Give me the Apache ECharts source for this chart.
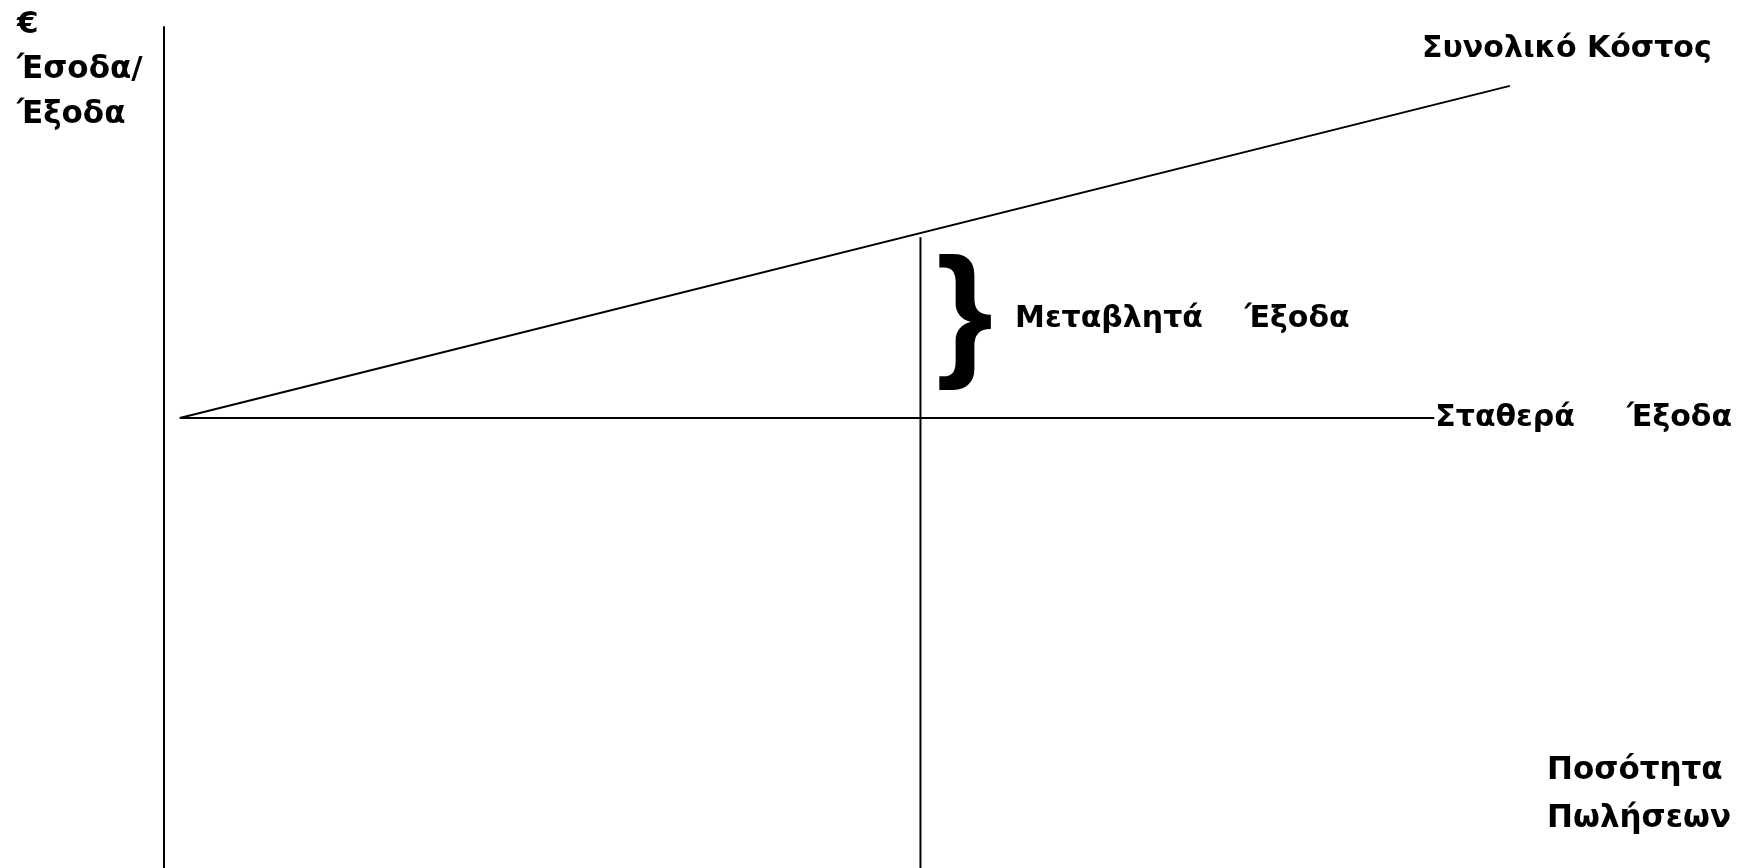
<!DOCTYPE html>
<html>
<head>
<meta charset="utf-8">
<script src="https://cdn.jsdelivr.net/npm/echarts@6/dist/echarts.min.js"></script>
<style>
  html, body { margin: 0; padding: 0; background: #fff; }
  #chart { width: 1740px; height: 868px; }
</style>
</head>
<body>
<div id="chart"></div>
<script>
// quantity (x) and euro (y) on a 0..100 scale
const fixedCost = [[1, 53.5], [80.6, 53.5]];
const totalCost = [[1, 53.5], [85.4, 93]];
const salesLevel = [[48, 0], [48, 75]];

const fixedLabel = 'Σταθερά     Έξοδα';
const totalLabel = 'Συνολικό Κόστος';
const variableLabel = 'Μεταβλητά    Έξοδα';
const yName = '€\nΈσοδα/\nΈξοδα';
const xName = 'Ποσότητα\nΠωλήσεων';

const braceAt = [50.8, 65.2];
const variableAt = [54, 65.3];

const FONT = '"DejaVu Sans", sans-serif';

const textStyle = (size, family) => ({
  color: '#000', fontSize: size, fontWeight: 'bold', fontFamily: family || FONT
});

const lineSeries = (data) => ({
  type: 'line',
  data: data,
  symbol: 'none',
  silent: true,
  lineStyle: { color: '#000', width: 2 },
  z: 3
});

const getOption = () => ({
  animation: false,
  backgroundColor: '#fff',
  grid: { left: 164, top: 27, width: 1576, height: 841 },
  xAxis: {
    type: 'value', min: 0, max: 100,
    axisLine: { show: false }, axisTick: { show: false },
    axisLabel: { show: false }, splitLine: { show: false }
  },
  yAxis: {
    type: 'value', min: 0, max: 100,
    axisLine: { show: true, onZero: false, lineStyle: { color: '#000', width: 2 } },
    axisTick: { show: false }, axisLabel: { show: false }, splitLine: { show: false }
  },
  series: [
    lineSeries(fixedCost),
    lineSeries(totalCost),
    lineSeries(salesLevel),
    {
      type: 'scatter',
      symbolSize: 0,
      silent: true,
      itemStyle: { opacity: 1 },
      data: [
        {
          value: fixedCost[1],
          label: Object.assign({ show: true, position: 'right', distance: 1, formatter: fixedLabel }, textStyle(30))
        },
        {
          value: totalCost[1],
          label: Object.assign({ show: true, position: 'top', distance: 22, offset: [57, 0], formatter: totalLabel }, textStyle(30))
        },
        {
          value: variableAt,
          label: Object.assign({ show: true, position: 'right', distance: 0, formatter: variableLabel }, textStyle(30))
        },
        {
          value: braceAt,
          label: Object.assign({ show: true, position: 'inside', formatter: '}' }, textStyle(146, '"Liberation Sans", sans-serif'))
        }
      ]
    }
  ],
  graphic: [
    {
      type: 'text', left: 17, top: 2,
      style: { text: yName, fill: '#000', font: 'bold 31px ' + FONT, lineHeight: 45 }
    },
    {
      type: 'text', left: 1547, top: 747,
      style: { text: xName, fill: '#000', font: 'bold 31px ' + FONT, lineHeight: 48 }
    }
  ]
});

const chart = echarts.init(document.getElementById('chart'));
chart.setOption(getOption());
</script>
</body>
</html>
